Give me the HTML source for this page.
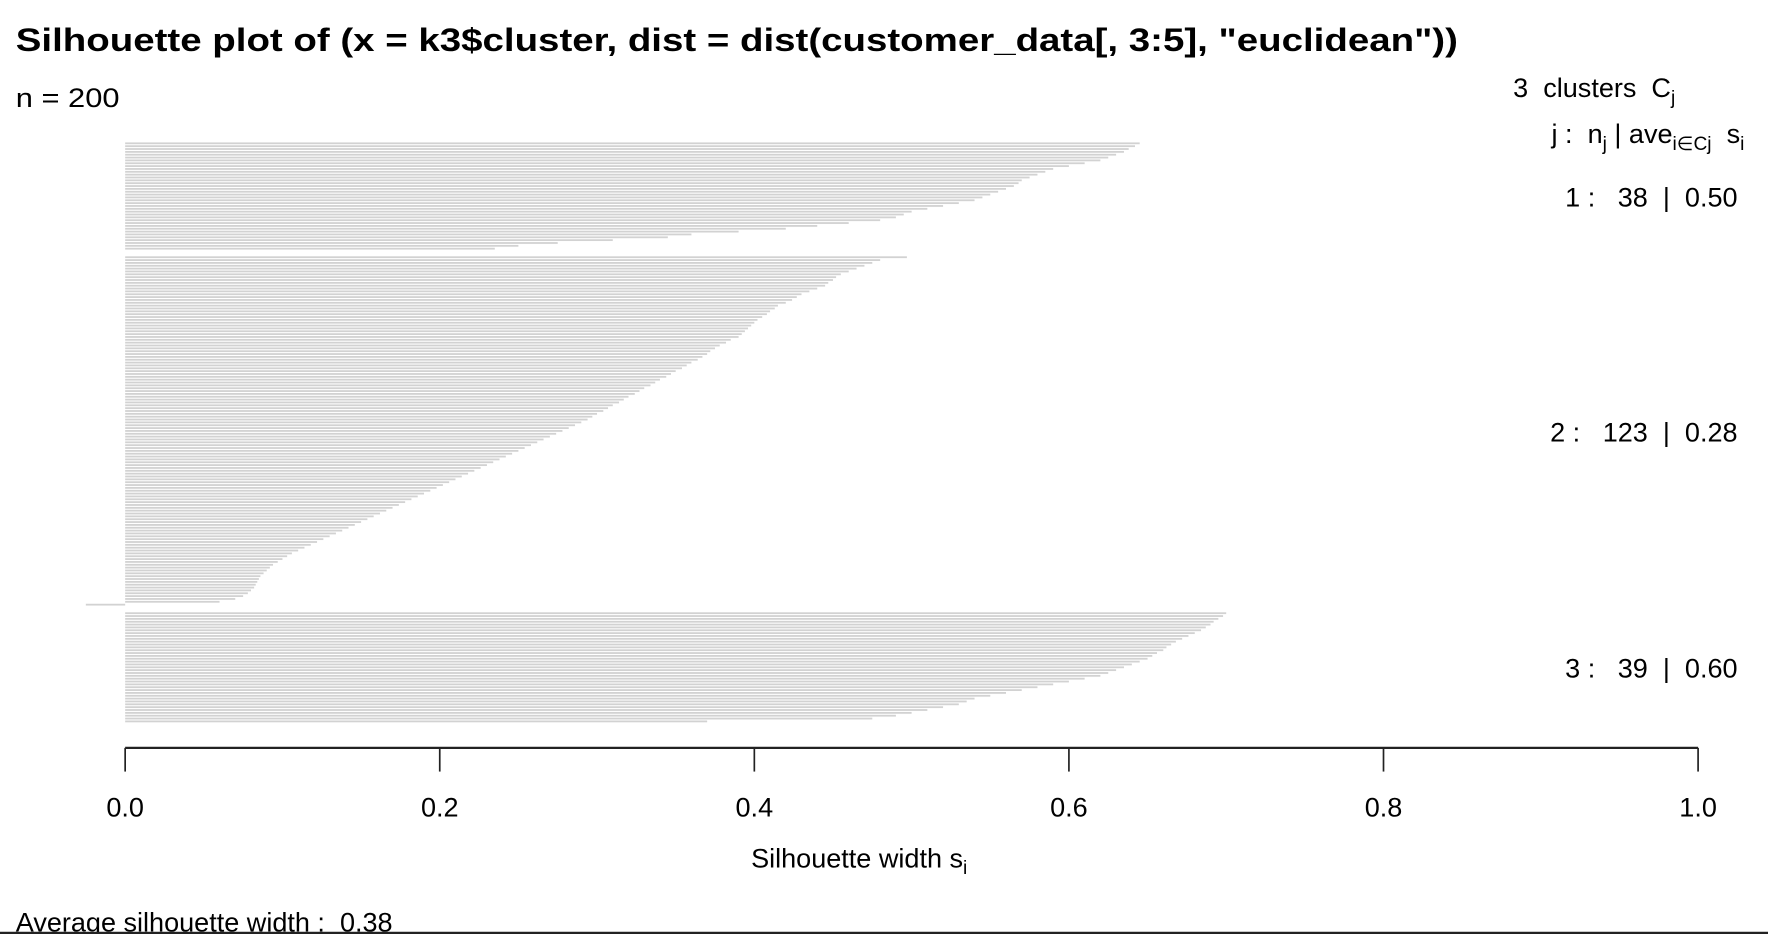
<!DOCTYPE html>
<html><head><meta charset="utf-8"><style>
html,body{margin:0;padding:0;background:#fff;overflow:hidden}
svg{display:block}
text{font-family:"Liberation Sans",Arial,sans-serif;fill:#000;white-space:pre}
</style></head><body>
<svg id="chart" width="1768" height="934" viewBox="0 0 1568 828" preserveAspectRatio="none" xmlns="http://www.w3.org/2000/svg">
<text x="14" y="45" font-size="29" font-weight="bold" textLength="1279" lengthAdjust="spacingAndGlyphs">Silhouette plot of (x = k3$cluster, dist = dist(customer_data[, 3:5], "euclidean"))</text>
<text x="14" y="95" font-size="24" textLength="92" lengthAdjust="spacingAndGlyphs">n = 200</text>
<text x="1342" y="86" font-size="24">3  clusters  C<tspan font-size="17" dy="6">j</tspan></text>
<text x="1376" y="127" font-size="24">j :  n<tspan font-size="17" dy="6">j</tspan><tspan dy="-6"> | ave</tspan><tspan font-size="17" dy="6">i∈Cj</tspan><tspan dy="-6">  s</tspan><tspan font-size="17" dy="6">i</tspan></text>
<g id="bars"></g>
<g id="labels"></g>
<g id="axis"></g>
<text x="762" y="769" font-size="24" text-anchor="middle">Silhouette width s<tspan font-size="17" dy="6">i</tspan></text>
<text x="14" y="826" font-size="24">Average silhouette width :  0.38</text>
<line x1="0" y1="827" x2="1568" y2="827" stroke="#222" stroke-width="2"/>
</svg>
<script>
const clusterNames = ["1", "2", "3"];
const clusterSizes = [38, 123, 39];
const clusterAverages = ["0.50", "0.28", "0.60"];
const cluster1Values = [0.645,0.642,0.638,0.635,0.63,0.625,0.62,0.61,0.60,0.59,0.585,0.58,0.575,0.57,0.568,0.565,0.56,0.555,0.55,0.545,0.54,0.53,0.52,0.51,0.50,0.495,0.49,0.48,0.46,0.44,0.42,0.39,0.36,0.345,0.31,0.275,0.25,0.235];
const cluster2Values = [0.497,0.48,0.475,0.47,0.465,0.46,0.455,0.452,0.45,0.447,
0.445,0.44,0.435,0.43,0.427,0.424,0.42,0.415,0.413,0.41,
0.408,0.405,0.402,0.40,0.398,0.396,0.394,0.392,0.39,0.385,
0.382,0.378,0.375,0.372,0.37,0.367,0.364,0.36,0.357,0.354,
0.35,0.347,0.344,0.34,0.337,0.334,0.33,0.327,0.324,0.32,
0.317,0.314,0.31,0.307,0.304,0.30,0.297,0.294,0.29,0.286,
0.282,0.278,0.274,0.27,0.266,0.262,0.258,0.254,0.25,0.246,
0.242,0.238,0.234,0.23,0.226,0.222,0.218,0.214,0.21,0.206,
0.202,0.198,0.194,0.19,0.186,0.182,0.178,0.174,0.17,0.166,
0.162,0.158,0.154,0.15,0.146,0.142,0.138,0.134,0.13,0.126,
0.122,0.118,0.114,0.11,0.106,0.103,0.10,0.097,0.094,0.092,
0.09,0.088,0.086,0.085,0.084,0.083,0.082,0.08,0.078,0.075,
0.07,0.06,-0.025];
const cluster3Values = [0.70,0.698,0.695,0.692,0.69,0.687,0.684,0.68,0.676,0.672,
0.668,0.665,0.662,0.66,0.656,0.653,0.65,0.645,0.64,0.635,
0.63,0.625,0.62,0.61,0.60,0.59,0.58,0.57,0.56,0.55,
0.54,0.535,0.53,0.52,0.51,0.50,0.49,0.475,0.37];
const xTicks = [0, 0.2, 0.4, 0.6, 0.8, 1.0];
const xTickLabels = ["0.0", "0.2", "0.4", "0.6", "0.8", "1.0"];

const NS = "http://www.w3.org/2000/svg";
const X0 = 111, X1 = 1506;
const xScale = v => X0 + v * (X1 - X0);
const TOP = 126, BOTTOM = 641, GAP = 2;
const allClusters = [cluster1Values, cluster2Values, cluster3Values];
const totalSlots = allClusters.reduce((a, c) => a + c.length, 0) + GAP * (allClusters.length - 1);
const slot = (BOTTOM - TOP) / totalSlots;
const yScale = i => TOP + i * slot;

const barsG = document.getElementById("bars");
const labelsG = document.getElementById("labels");
let idx = 0;
allClusters.forEach((vals, ci) => {
  const start = idx;
  vals.forEach(v => {
    const r = document.createElementNS(NS, "rect");
    
    
    const xa = xScale(Math.min(0, v)), xb = xScale(Math.max(0, v));
    r.setAttribute("x", xa);
    r.setAttribute("width", Math.max(0.5, xb - xa));
    r.setAttribute("y", yScale(idx) + slot * 0.1);
    r.setAttribute("height", 1.6);
    r.setAttribute("fill", "#d2d2d2");
    barsG.appendChild(r);
    idx++;
  });
  const mid = (yScale(start) + yScale(idx)) / 2;
  const t = document.createElementNS(NS, "text");
  
  
  t.setAttribute("x", 1541);
  t.setAttribute("y", mid + 9);
  t.setAttribute("font-size", "24");
  t.setAttribute("text-anchor", "end");
  t.textContent = clusterNames[ci] + " :   " + clusterSizes[ci] + "  |  " + clusterAverages[ci];
  labelsG.appendChild(t);
  idx += GAP;
});

const axisG = document.getElementById("axis");
const axisLine = document.createElementNS(NS, "line");


axisLine.setAttribute("x1", xScale(xTicks[0]));
axisLine.setAttribute("x2", xScale(xTicks[xTicks.length - 1]));
axisLine.setAttribute("y1", 663);
axisLine.setAttribute("y2", 663);
axisLine.setAttribute("stroke", "#222");
axisLine.setAttribute("stroke-width", "2");
axisG.appendChild(axisLine);
xTicks.forEach((v, i) => {
  const tk = document.createElementNS(NS, "line");
  
  
  tk.setAttribute("x1", xScale(v));
  tk.setAttribute("x2", xScale(v));
  tk.setAttribute("y1", 663);
  tk.setAttribute("y2", 684);
  tk.setAttribute("stroke", "#222");
  tk.setAttribute("stroke-width", "1.5");
  axisG.appendChild(tk);
  const lb = document.createElementNS(NS, "text");
  
  
  lb.setAttribute("x", xScale(v));
  lb.setAttribute("y", 724);
  lb.setAttribute("font-size", "24");
  lb.setAttribute("text-anchor", "middle");
  lb.textContent = xTickLabels[i];
  axisG.appendChild(lb);
});
</script>
</body></html>
